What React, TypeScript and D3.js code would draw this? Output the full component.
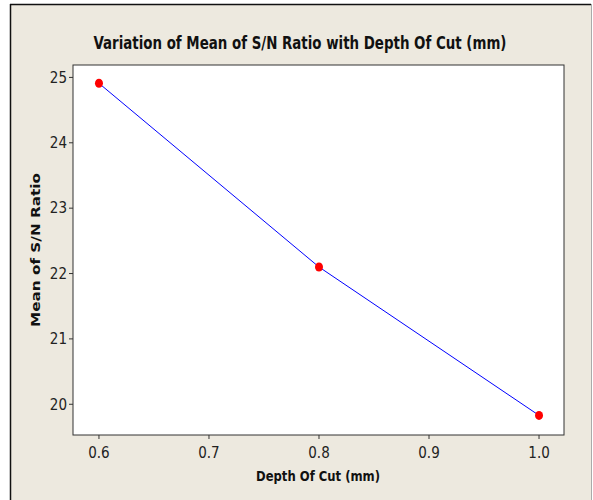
import React from 'react';
import * as d3 from 'd3';

const depthOfCut = [0.6, 0.8, 1.0];
const meanSN = [24.91, 22.1, 19.83];
const xTicks = [0.6, 0.7, 0.8, 0.9, 1.0];
const yTicks = [20, 21, 22, 23, 24, 25];

const W = 593;
const H = 500;
const plot = { left: 73, top: 65, right: 564, bottom: 435 };

export default function App() {
  const x = d3.scaleLinear().domain([0.5764, 1.0227]).range([plot.left, plot.right]);
  const y = d3.scaleLinear().domain([19.53, 25.19]).range([plot.bottom, plot.top]);

  const line = d3
    .line<number>()
    .x((d, i) => x(depthOfCut[i]))
    .y((d) => y(d));

  const condensed = "'Liberation Sans Narrow', 'DejaVu Sans Condensed', sans-serif";
  const condensedBold = "'DejaVu Sans Condensed', 'Liberation Sans Narrow', sans-serif";

  return (
    <svg
      width={W}
      height={H}
      style={{ position: 'absolute', left: 0, top: 0 }}
      xmlns="http://www.w3.org/2000/svg"
    >
      <rect x={0} y={0} width={W} height={H} fill="#fff" />
      <rect x={10} y={4} width={581} height={H - 4} fill="#EDE9DF" />
      <line x1={10} y1={4.5} x2={591} y2={4.5} stroke="#111" strokeWidth={1.5} />
      <line x1={10.5} y1={4} x2={10.5} y2={H} stroke="#111" strokeWidth={1.5} />
      <line x1={591.5} y1={4} x2={591.5} y2={H} stroke="#aaa" strokeWidth={1} />

      <text
        x={300}
        y={49}
        textAnchor="middle"
        fontFamily={condensedBold}
        fontWeight="bold"
        fontSize={17}
        textLength={413}
        lengthAdjust="spacingAndGlyphs"
        fill="#111"
      >
        Variation of Mean of S/N Ratio with Depth Of Cut (mm)
      </text>

      <rect
        x={plot.left}
        y={plot.top}
        width={plot.right - plot.left}
        height={plot.bottom - plot.top}
        fill="#fff"
        stroke="#333"
        strokeWidth={1}
      />

      {xTicks.map((t) => (
        <g key={'x' + t}>
          <line x1={x(t)} x2={x(t)} y1={plot.bottom} y2={plot.bottom + 4} stroke="#333" />
          <text
            x={x(t)}
            y={plot.bottom + 23}
            textAnchor="middle"
            fontFamily={condensed}
            fontSize={15}
            fill="#222"
          >
            {t.toFixed(1)}
          </text>
        </g>
      ))}

      {yTicks.map((t) => (
        <g key={'y' + t}>
          <line x1={plot.left - 4} x2={plot.left} y1={y(t)} y2={y(t)} stroke="#333" />
          <text
            x={plot.left - 6}
            y={y(t)}
            dy="0.35em"
            textAnchor="end"
            fontFamily={condensed}
            fontSize={15}
            fill="#222"
          >
            {t}
          </text>
        </g>
      ))}

      <text
        x={318}
        y={481}
        textAnchor="middle"
        fontFamily={condensedBold}
        fontWeight="bold"
        fontSize={14}
        textLength={124}
        lengthAdjust="spacingAndGlyphs"
        fill="#111"
      >
        Depth Of Cut (mm)
      </text>

      <text
        transform={`translate(40,${(plot.top + plot.bottom) / 2}) rotate(-90)`}
        textAnchor="middle"
        fontFamily="'DejaVu Sans', Verdana, sans-serif"
        fontWeight="bold"
        fontSize={13}
        textLength={154}
        lengthAdjust="spacingAndGlyphs"
        fill="#111"
      >
        Mean of S/N Ratio
      </text>

      <path d={line(meanSN) ?? ''} fill="none" stroke="#0000FF" strokeWidth={1} />

      {meanSN.map((v, i) => (
        <ellipse key={i} cx={x(depthOfCut[i])} cy={y(v)} rx={4} ry={4.5} fill="#FF0000" />
      ))}
    </svg>
  );
}
